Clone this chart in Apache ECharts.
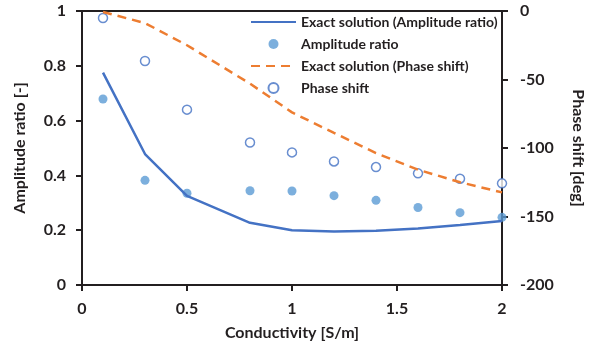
<!DOCTYPE html>
<html>
<head>
<meta charset="utf-8">
<script src="https://cdn.jsdelivr.net/npm/echarts@6/dist/echarts.min.js"></script>
<style>
  html, body { margin: 0; padding: 0; background: #fff; }
  #chart { width: 594px; height: 347px; }
</style>
</head>
<body>
<div id="chart"></div>
<script>
// conductivity [S/m]
const conductivity = [0.1, 0.3, 0.5, 0.8, 1.0, 1.2, 1.4, 1.6, 1.8, 2.0];
// amplitude ratio [-]
const ampExact = [0.775, 0.478, 0.325, 0.227, 0.2, 0.195, 0.198, 0.206, 0.219, 0.234];
const ampMeasured = [0.679, 0.382, 0.335, 0.344, 0.343, 0.326, 0.309, 0.283, 0.264, 0.247];
// phase shift [deg]
const phaseExact = [-0.7, -8.8, -25, -53, -74, -89, -103.7, -115.8, -125, -132.4];
const phaseMeasured = [-5.1, -36.5, -72, -96, -103.2, -109.8, -113.9, -118.5, -122.4, -125.8];

const FONT = "Lato";
const AXIS = "#231f20";

const pairs = (xs, ys) => xs.map((x, i) => [x, ys[i]]);

const chart = echarts.init(document.getElementById("chart"), null, { renderer: "canvas" });

const axisCommon = {
  axisLine: { show: true, lineStyle: { color: AXIS, width: 2 } },
  axisTick: { show: true, inside: false, length: 6, lineStyle: { color: AXIS, width: 2 } },
  splitLine: { show: false },
  axisLabel: { color: "#231f20", fontFamily: FONT, fontWeight: "bold", fontSize: 16 },
  nameLocation: "middle",
  nameTextStyle: { color: "#231f20", fontFamily: FONT, fontWeight: "bold", fontSize: 16 },
};

chart.setOption({
  animation: false,
  backgroundColor: "#fff",
  grid: {
    left: 82, right: 91, top: 11, bottom: 62,
    show: true, borderColor: AXIS, borderWidth: 2, backgroundColor: "transparent",
  },
  legend: {
    orient: "vertical",
    left: 245,
    top: 10,
    itemWidth: 45,
    itemHeight: 10,
    itemGap: 8,
    textStyle: { color: "#231f20", fontFamily: FONT, fontWeight: "bold", fontSize: 14 },
    data: [
      { name: "Exact solution (Amplitude ratio)", itemStyle: { opacity: 0 } },
      { name: "Amplitude ratio" },
      { name: "Exact solution (Phase shift)", itemStyle: { opacity: 0 } },
      { name: "Phase shift" },
    ],
  },
  xAxis: {
    ...axisCommon,
    type: "value",
    min: 0, max: 2, interval: 0.5,
    name: "Conductivity [S/m]",
    nameGap: 40,
    axisLabel: { ...axisCommon.axisLabel, margin: 16 },
  },
  yAxis: [
    {
      ...axisCommon,
      type: "value",
      min: 0, max: 1, interval: 0.2,
      name: "Amplitude ratio [-]",
      nameGap: 54,
      axisLabel: { ...axisCommon.axisLabel, margin: 16 },
    },
    {
      ...axisCommon,
      type: "value",
      position: "right",
      min: -200, max: 0, interval: 50,
      name: "Phase shift [deg]",
      nameGap: 68,
      nameRotate: -90,
      axisLabel: { ...axisCommon.axisLabel, margin: 18 },
    },
  ],
  series: [
    {
      name: "Exact solution (Amplitude ratio)",
      type: "line",
      yAxisIndex: 0,
      data: pairs(conductivity, ampExact),
      showSymbol: false,
      symbol: "none",
      lineStyle: { color: "#4472c4", width: 2.5 },
      itemStyle: { color: "#4472c4" },
    },
    {
      name: "Amplitude ratio",
      type: "scatter",
      yAxisIndex: 0,
      data: pairs(conductivity, ampMeasured),
      symbol: "circle",
      symbolSize: 9,
      itemStyle: { color: "#5b9bd5" },
    },
    {
      name: "Exact solution (Phase shift)",
      type: "line",
      yAxisIndex: 1,
      data: pairs(conductivity, phaseExact),
      showSymbol: false,
      symbol: "none",
      lineStyle: { color: "#ed7d31", width: 2.5, type: [9, 6] },
      itemStyle: { color: "#ed7d31" },
    },
    {
      name: "Phase shift",
      type: "scatter",
      yAxisIndex: 1,
      data: pairs(conductivity, phaseMeasured),
      symbol: "circle",
      symbolSize: 9,
      itemStyle: { color: "#fff", borderColor: "#4472c4", borderWidth: 1.5 },
    },
  ],
});
</script>
</body>
</html>
